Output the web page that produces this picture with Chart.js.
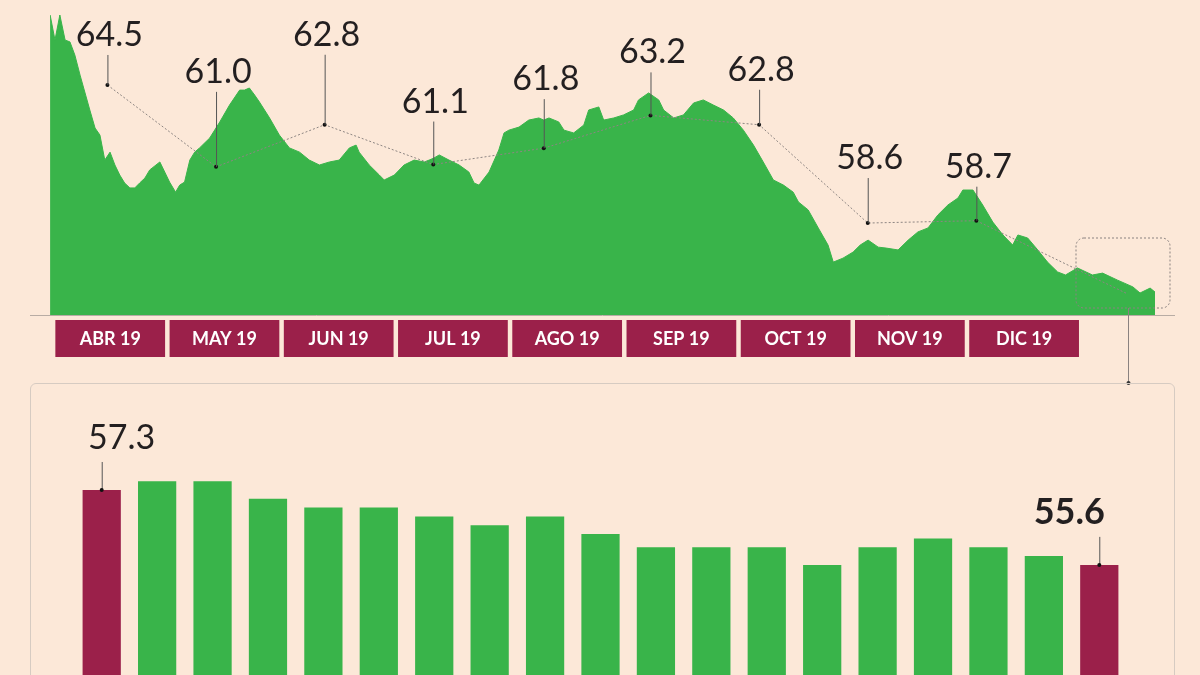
<!DOCTYPE html>
<html>
<head>
<meta charset="utf-8">
<script src="https://cdn.jsdelivr.net/npm/chart.js@4.4.1/dist/chart.umd.min.js"></script>
<style>
  html, body { margin: 0; padding: 0; background: #fce8d8; }
  #wrap { position: relative; width: 1200px; height: 675px; overflow: hidden; }
  #topChart { position: absolute; left: 0; top: 0; }
  #barBox { position: absolute; left: 30px; top: 383px; width: 1145px; height: 300px;
            border: 1px solid #d6cbc2; border-radius: 6px; box-sizing: border-box; }
  #barChart { position: absolute; left: 30px; top: 383px; }
</style>
</head>
<body>
<div id="wrap">
  <canvas id="topChart" width="1200" height="675"></canvas>
  <div id="barBox"></div>
  <canvas id="barChart" width="1145" height="292"></canvas>
</div>
<script>
// daily index (days since 1 Apr 2019) and index level
const areaDays = [-1.3, 0, 1.3, 2.7, 4, 5.3, 6.7, 9.3, 10.7, 12, 13.3, 14.7, 16, 17.3, 18.6, 20, 21.3, 22.6, 24, 25.3,
  28, 29.3, 30.6, 32.2, 33.3, 34.6, 36, 37.3, 38.6, 41.3, 44, 46.6, 49.3, 50.6, 51.9, 53.3, 54.6, 57.3, 59.9, 62.6,
  65.3, 67.9, 70.6, 73.3, 75.9, 78.6, 80.4, 81.2, 83.9, 86.6, 87.9, 90.6, 93.2, 95.9, 98.6, 99.9, 101.2, 102.6, 105.2, 107.9,
  110.5, 111.9, 113.2, 115.9, 118.5, 119.9, 121.2, 123.9, 126.5, 129.2, 130.5, 131.9, 134.5, 135.9, 138.5, 141.2, 142.5, 145.2, 146.5, 149.2,
  151.8, 154.5, 155.8, 158.5, 161.2, 162.5, 165.2, 167.8, 170.5, 173.1, 175.8, 178.5, 181.1, 183.8, 186.5, 189.1, 191.8, 194.5, 197.1, 198.5,
  201.1, 203.8, 206.4, 207.8, 210.4, 213.1, 215, 217.1, 219.8, 221.9, 225.1, 227.8, 230.4, 233.1, 235.7, 238.4, 241.1, 242.4, 245.1, 247.7,
  250.4, 253.1, 255.7, 257.1, 259.7, 262.4, 265, 267.7, 269.8, 273, 277, 279.7, 283.7, 287.8, 289.7, 292.4, 293.7];
const areaValues = [67.49, 66.42, 67.49, 66.42, 66.34, 65.78, 64.92, 63.43, 62.66, 62.36, 61.29, 61.63, 61.08, 60.65, 60.31, 60.1, 60.1, 60.31, 60.52, 60.87,
  61.21, 60.78, 60.35, 59.92, 60.22, 60.35, 61.29, 61.63, 61.81, 62.23, 62.92, 63.64, 64.28, 64.28, 64.37, 64.07, 63.77, 63.09, 62.36, 61.81,
  61.63, 61.29, 61.08, 61.21, 61.29, 61.81, 61.93, 61.63, 61.08, 60.65, 60.44, 60.65, 61.08, 61.29, 61.21, 61.29, 61.38, 61.51, 61.29, 61.08,
  60.78, 60.31, 60.22, 60.78, 61.72, 62.45, 62.57, 62.7, 63.0, 63.09, 63.0, 63.09, 62.92, 62.57, 62.45, 62.79, 63.43, 63.56, 63.0, 63.09,
  63.22, 63.43, 63.86, 64.16, 63.86, 63.43, 63.09, 63.22, 63.73, 63.86, 63.64, 63.43, 63.09, 62.57, 61.93, 61.21, 60.44, 60.22, 59.92, 59.5,
  59.16, 58.39, 57.66, 56.93, 57.1, 57.36, 57.66, 57.87, 57.57, 57.53, 57.45, 57.87, 58.22, 58.39, 58.94, 59.37, 59.67, 60.01, 60.01, 59.37,
  58.64, 58.09, 57.66, 58.09, 57.96, 57.45, 56.93, 56.51, 56.38, 56.68, 56.38, 56.46, 56.16, 55.87, 55.61, 55.82, 55.65, 55.52];

// monthly averages
const monthDays = [14, 43, 72, 101, 130.5, 159, 188, 217, 246, 286];
const monthValues = [64.5, 61.0, 62.8, 61.1, 61.8, 63.2, 62.8, 58.6, 58.7, 55.6];
const monthValueLabels = ['64.5', '61.0', '62.8', '61.1', '61.8', '63.2', '62.8', '58.6', '58.7', ''];
const monthNames = ['ABR 19', 'MAY 19', 'JUN 19', 'JUL 19', 'AGO 19', 'SEP 19', 'OCT 19', 'NOV 19', 'DIC 19'];

// weekly readings
const weekLabels = ['1', '2', '3', '4', '5', '6', '7', '8', '9', '10', '11', '12', '13', '14', '15', '16', '17', '18', '19'];
const weekValues = [57.3, 57.5, 57.5, 57.1, 56.9, 56.9, 56.7, 56.5, 56.7, 56.3, 56.0, 56.0, 56.0, 55.6, 56.0, 56.2, 56.0, 55.8, 55.6];

const GREEN = '#39b44a';
const MAROON = '#9b204a';
const TEXT = '#231f20';

// label heights above the point (style only)
const labelLift = [50, 95, 90, 63, 69, 63, 55, 65, 54, 0];

const topDecor = {
  id: 'topDecor',
  afterDatasetsDraw(chart) {
    const { ctx, scales: { x, y } } = chart;
    ctx.save();
    // baseline
    ctx.strokeStyle = '#b8aca4';
    ctx.lineWidth = 1;
    ctx.beginPath();
    ctx.moveTo(30, 315.5); ctx.lineTo(1175, 315.5);
    ctx.stroke();
    // value labels with leaders
    ctx.font = '34px Lato, "Open Sans", sans-serif';
    ctx.textAlign = 'center';
    ctx.textBaseline = 'middle';
    monthDays.forEach((d, i) => {
      if (!monthValueLabels[i]) return;
      const px = x.getPixelForValue(d), py = y.getPixelForValue(monthValues[i]);
      ctx.fillStyle = '#111';
      ctx.beginPath(); ctx.arc(px, py, 2, 0, Math.PI * 2); ctx.fill();
      ctx.strokeStyle = '#555';
      ctx.beginPath(); ctx.moveTo(px + 0.5, py); ctx.lineTo(px + 0.5, py - labelLift[i] + 20); ctx.stroke();
      ctx.fillStyle = TEXT;
      ctx.fillText(monthValueLabels[i], px + 2, py - labelLift[i]);
    });
    // month boxes
    ctx.font = 'bold 18px Lato, "Open Sans", sans-serif';
    monthNames.forEach((m, i) => {
      const l = x.getPixelForValue(i * 30.5 + 0.1);
      const r = x.getPixelForValue((i + 1) * 30.5 - 1.1);
      ctx.fillStyle = MAROON;
      ctx.fillRect(l, 320, r - l, 37);
      ctx.fillStyle = '#fff';
      ctx.fillText(m, (l + r) / 2, 339);
    });
    // dotted zoom box + connector
    ctx.strokeStyle = '#8a8280';
    ctx.setLineDash([2, 2]);
    ctx.beginPath();
    ctx.roundRect(1076, 238, 94, 70, 8);
    ctx.stroke();
    ctx.setLineDash([]);
    ctx.beginPath(); ctx.moveTo(1128.5, 308); ctx.lineTo(1128.5, 383); ctx.stroke();
    ctx.fillStyle = '#333';
    ctx.beginPath(); ctx.arc(1128.5, 383, 2, 0, Math.PI * 2); ctx.fill();
    ctx.restore();
  }
};

new Chart(document.getElementById('topChart'), {
  type: 'line',
  data: {
    datasets: [
      {
        data: monthDays.map((d, i) => ({ x: d, y: monthValues[i] })),
        borderColor: '#8d8582', borderWidth: 1, borderDash: [2, 2],
        pointRadius: 0, fill: false, tension: 0, order: 0
      },
      {
        data: areaDays.map((d, i) => ({ x: d, y: areaValues[i] })),
        borderColor: GREEN, borderWidth: 1, backgroundColor: GREEN,
        pointRadius: 0, fill: 'start', tension: 0, order: 1
      }
    ]
  },
  options: {
    responsive: false, animation: false,
    layout: { padding: { left: 50, right: 45, top: 15, bottom: 360 } },
    plugins: { legend: { display: false }, tooltip: { enabled: false } },
    scales: {
      x: { type: 'linear', min: -1.33, max: 293.7, display: false },
      y: { min: 54.67, max: 67.49, display: false }
    }
  },
  plugins: [topDecor]
});

const barDecor = {
  id: 'barDecor',
  afterDatasetsDraw(chart) {
    const { ctx, scales: { x, y } } = chart;
    ctx.save();
    ctx.textAlign = 'center';
    ctx.textBaseline = 'middle';
    [0, weekValues.length - 1].forEach((i, k) => {
      const px = x.getPixelForValue(i), py = y.getPixelForValue(weekValues[i]);
      ctx.strokeStyle = '#555';
      ctx.beginPath(); ctx.moveTo(px + 0.5, py); ctx.lineTo(px + 0.5, py - 28); ctx.stroke();
      ctx.fillStyle = '#111';
      ctx.beginPath(); ctx.arc(px, py, 2, 0, Math.PI * 2); ctx.fill();
      ctx.fillStyle = TEXT;
      ctx.font = k === 0 ? '34px Lato, "Open Sans", sans-serif' : 'bold 36px Lato, "Open Sans", sans-serif';
      ctx.fillText(weekValues[i].toFixed(1), px + (k === 0 ? 20 : -30), py - 52);
    });
    ctx.restore();
  }
};

new Chart(document.getElementById('barChart'), {
  type: 'bar',
  data: {
    labels: weekLabels,
    datasets: [{
      data: weekValues,
      backgroundColor: weekValues.map((v, i) => (i === 0 || i === weekValues.length - 1) ? MAROON : GREEN),
      barPercentage: 0.69, categoryPercentage: 1
    }]
  },
  options: {
    responsive: false, animation: false,
    layout: { padding: { left: 44, right: 48, top: 7, bottom: 0 } },
    plugins: { legend: { display: false }, tooltip: { enabled: false } },
    scales: {
      x: { display: false },
      y: { min: 53.1, max: 59.57, display: false }
    }
  },
  plugins: [barDecor]
});
</script>
</body>
</html>
